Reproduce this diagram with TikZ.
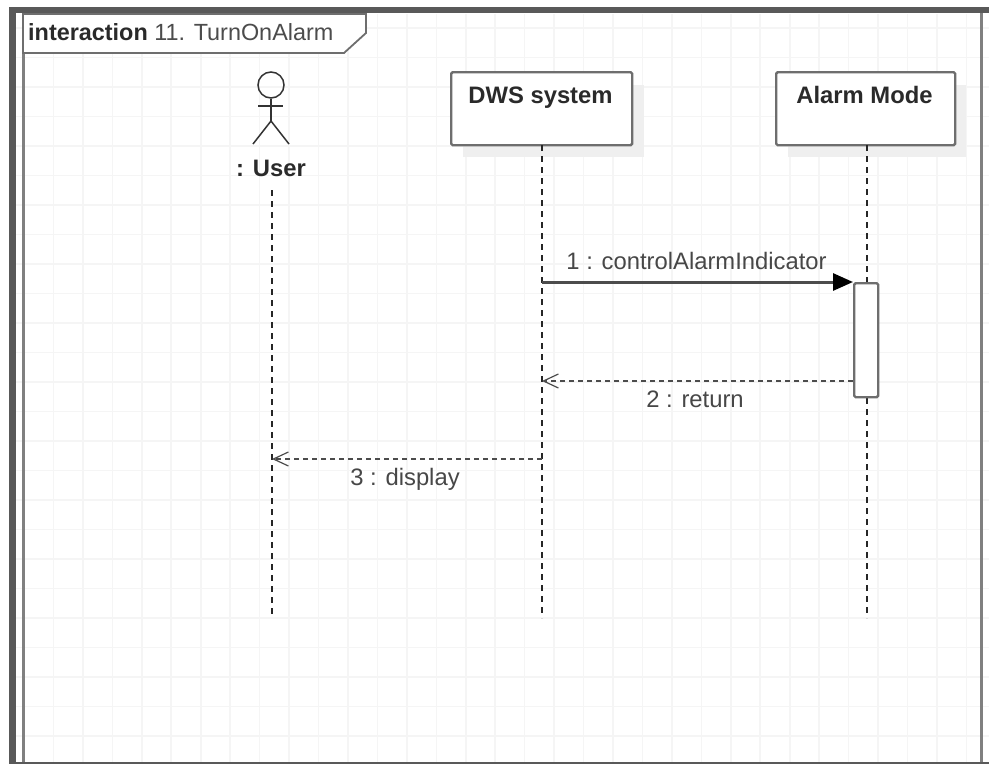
\documentclass[tikz,border=0pt]{standalone}
\usepackage{fontspec}
\setmainfont{Liberation Sans}
\usetikzlibrary{arrows.meta,calc}
\definecolor{gridc}{HTML}{F5F5F5}
\definecolor{framed}{HTML}{595959}
\definecolor{edge}{HTML}{6E6E6E}
\definecolor{txt}{HTML}{2A2A2A}
\definecolor{shadowc}{HTML}{EFEFEF}
\tikzset{
  lifebox/.style={draw=edge,line width=2.4pt,fill=white,rounded corners=1.5pt,minimum width=181pt,minimum height=73pt,inner sep=0pt,anchor=north west},
  boxtitle/.style={font=\fontsize{23.8}{26}\selectfont\bfseries,text=txt,inner sep=0pt},
  msglabel/.style={font=\fontsize{23.8}{26}\selectfont,text=black!72,inner sep=0pt},
  lifeline/.style={black!85,line width=2pt,dash pattern=on 6pt off 5pt},
  msgcall/.style={draw=black!70,line width=3pt,-{Triangle[length=20pt,width=17pt,fill=black,color=black]}},
  msgreturn/.style={draw=black!70,line width=2.6pt,dash pattern=on 5pt off 4pt,-{Straight Barb[length=15pt,width=14pt,line width=1.2pt,color=black!70]}},
  actorline/.style={black!80,line width=1.5pt}
}
\begin{document}
\begin{tikzpicture}[x=1pt,y=-1pt]
\useasboundingbox (0,0) rectangle (989,764);
\fill[white] (0,0) rectangle (989,764);
% grid
\foreach \k in {0,...,32}{\draw[gridc,line width=1.6pt] ({24+29.45*\k},14) -- ({24+29.45*\k},762);}
\foreach \k in {0,...,25}{\draw[gridc,line width=1.6pt] (16,{28+29.5*\k}) -- (989,{28+29.5*\k});}
% frame
\fill[framed] (9,7) rectangle (989,13);
\fill[framed] (9,7) rectangle (16,764);
\fill[framed] (16,761.5) rectangle (989,764);
\fill[black!50] (22,13) rectangle (25,762);
\fill[black!50] (980,13) rectangle (983,762);
% frame tab
\draw[edge,line width=1.8pt,fill=white] (23,14) -- (366,14) -- (366,33) -- (344,53) -- (23,53) -- cycle;
\node[anchor=base west,inner sep=0pt,font=\fontsize{23.4}{26}\selectfont,text=txt] (tab) at (28,40) {\textbf{interaction} \textcolor{black!70}{11. TurnOnAlarm}};
% shadows
\fill[shadowc] (463,85) rectangle (644,157);
\fill[shadowc] (788,85) rectangle (966,157);
% boxes
\node[lifebox] (dws) at (450,71) {};
\node[lifebox,minimum width=179pt] (alarm) at (775,71) {};
\node[boxtitle,anchor=base] (dwst) at (540.5,103) {DWS system};
\node[boxtitle,anchor=base] (alarmt) at (864.5,103) {Alarm Mode};
% actor
\node[draw=black!80,line width=1.5pt,circle,minimum size=26pt,inner sep=0pt] (head) at (271,85) {};
\coordinate (hip) at (271,121);
\coordinate (armL) at (258,106);
\coordinate (armR) at (283,106);
\coordinate (legL) at (253,144);
\coordinate (legR) at (289,144);
\draw[actorline] (head.south) -- (hip);
\draw[actorline] (armL) -- (armR);
\draw[actorline] (legL) -- (hip) -- (legR);
\node[boxtitle,anchor=base] (user) at (271,176) {: User};
% lifelines
\coordinate (userTop) at (272,190);
\coordinate (userEnd) at (272,618);
\coordinate (dwsTop) at (542,145);
\coordinate (dwsEnd) at (542,618);
\coordinate (alarmTop) at (867,145);
\coordinate (alarmEnd) at (867,618);
\draw[lifeline] (userTop) -- (userEnd);
\draw[lifeline] (dwsTop) -- (dwsEnd);
\draw[lifeline] (alarmTop) -- (alarmEnd);
% activation
\node[draw=edge,line width=2.4pt,fill=white,rounded corners=1.5pt,minimum width=24pt,minimum height=114pt,inner sep=0pt,anchor=north west] (act) at (853,282) {};
% messages
\coordinate (m1) at (542,282);
\coordinate (m2s) at (542,381);
\coordinate (m3s) at (542,459);
\coordinate (m3e) at (272,459);
\draw[msgcall] (m1) -- (act.north west);
\draw[msgreturn] (act.west |- m2s) -- (m2s);
\draw[msgreturn] (m3s) -- (m3e);
\node[msglabel,anchor=base] (l1) at (696.5,269) {1 : controlAlarmIndicator};
\node[msglabel,anchor=base] (l2) at (695,407) {2 : return};
\node[msglabel,anchor=base] (l3) at (405,485) {3 : display};
\end{tikzpicture}
\end{document}
